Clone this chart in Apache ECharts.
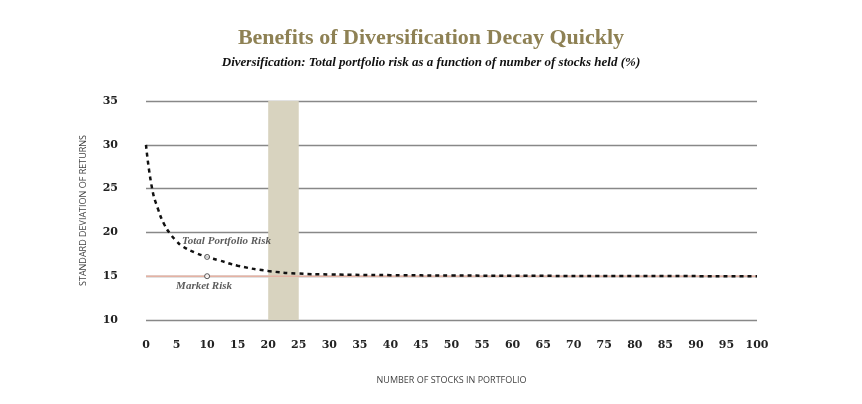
<!DOCTYPE html>
<html lang="en">
<head>
<meta charset="UTF-8">
<title>Diversification</title>
<script src="https://cdn.jsdelivr.net/npm/echarts@6/dist/echarts.min.js"></script>
<style>body{margin:0;background:#fff}</style>
</head>
<body>
<div id="main" style="width:862px;height:404px;"></div>
<script>
// values
const stocks = [0, 1, 2, 3, 4, 5, 6, 8, 10, 12, 15, 20, 25, 30, 40, 50, 60, 80, 100];
const totalRisk = [30, 25, 22.6, 20.9, 19.8, 19.0, 18.4, 17.7, 17.2, 16.8, 16.2, 15.6, 15.3, 15.2, 15.12, 15.08, 15.05, 15.02, 15.0];
const marketRisk = 15;
const xTicks = [0, 100, 5];
const yTicks = [10, 35, 5];
const band = [20, 25];

const chart = echarts.init(document.getElementById('main'));
const serif = '"Liberation Serif", "DejaVu Serif", serif';
chart.setOption({
  animation: false,
  title: [
    { text: 'Benefits of Diversification Decay Quickly', left: 'center', top: 22,
      textStyle: { fontFamily: serif, fontSize: 22, fontWeight: 'bold', color: '#8e8154' } },
    { text: 'Diversification: Total portfolio risk as a function of number of stocks held (%)', left: 'center', top: 51,
      textStyle: { fontFamily: serif, fontSize: 13, fontStyle: 'italic', fontWeight: 'bold', color: '#111' } }
  ],
  grid: { left: 146, right: 105, top: 101, bottom: 84 },
  xAxis: {
    type: 'value', min: xTicks[0], max: xTicks[1], interval: xTicks[2],
    name: 'NUMBER OF STOCKS IN PORTFOLIO', nameLocation: 'middle', nameGap: 56,
    nameTextStyle: { fontSize: 9, color: '#444', fontFamily: 'Open Sans' },
    axisLine: { show: false }, axisTick: { show: false }, splitLine: { show: false },
    axisLabel: { fontFamily: '"DejaVu Serif", serif', fontWeight: 'bold', fontSize: 11, color: '#222', margin: 20 }
  },
  yAxis: {
    type: 'value', min: yTicks[0], max: yTicks[1], interval: yTicks[2],
    name: 'STANDARD DEVIATION OF RETURNS', nameLocation: 'middle', nameGap: 58,
    nameTextStyle: { fontSize: 9, color: '#444', fontFamily: 'Open Sans' },
    axisLine: { show: false }, axisTick: { show: false },
    splitLine: { lineStyle: { color: '#888', width: 1.3 } },
    axisLabel: { fontFamily: '"DejaVu Serif", serif', fontWeight: 'bold', fontSize: 11, color: '#222', margin: 28 }
  },
  series: [
    {
      type: 'line', data: [[0, marketRisk], [100, marketRisk]], symbol: 'none', silent: true,
      lineStyle: { color: '#e5b2a3', width: 1.5 },
      markArea: { silent: true, itemStyle: { color: '#d8d3bf' }, data: [[{ xAxis: band[0] }, { xAxis: band[1] }]] },
      z: 1
    },
    {
      type: 'line', smooth: true, symbol: 'none',
      data: stocks.map((s, i) => [s, totalRisk[i]]),
      lineStyle: { color: '#111', width: 2.5, type: [4, 4] }, z: 3
    },
    {
      type: 'scatter', symbol: 'circle', symbolSize: 5,
      itemStyle: { color: '#fff', borderColor: '#333', borderWidth: 1 },
      data: [
        { value: [10, totalRisk[8]], label: { show: true, position: [-22, -18], formatter: 'Total Portfolio Risk' } },
        { value: [10, marketRisk], label: { show: true, position: [-28, 7], formatter: 'Market Risk' } }
      ],
      label: { fontFamily: serif, fontStyle: 'italic', fontWeight: 'bold', fontSize: 11, color: '#333' },
      z: 4
    }
  ]
});
</script>
</body>
</html>
